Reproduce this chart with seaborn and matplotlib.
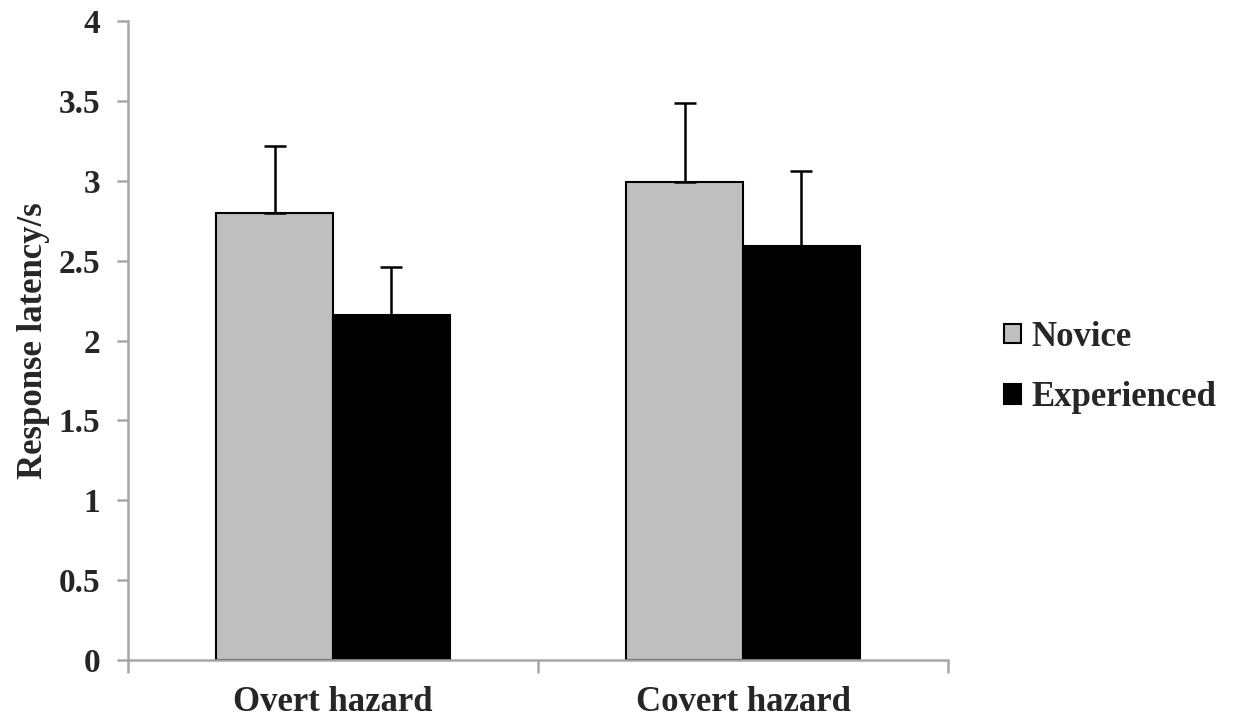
import numpy as np
import pandas as pd
import matplotlib
matplotlib.use("Agg")
import matplotlib.pyplot as plt
import seaborn as sns

# --- data ---
conditions = ["Overt hazard", "Covert hazard"]
groups = ["Novice", "Experienced"]
novice_mean = [2.80, 2.99]
novice_err = [0.42, 0.50]
experienced_mean = [2.16, 2.59]
experienced_err = [0.30, 0.47]

df = pd.DataFrame({
    "condition": conditions * 2,
    "group": [groups[0]] * 2 + [groups[1]] * 2,
    "latency": novice_mean + experienced_mean,
})
errs = {groups[0]: novice_err, groups[1]: experienced_err}

sns.set_style("white")
plt.rcParams["font.family"] = ["Liberation Serif", "DejaVu Serif"]
plt.rcParams["font.weight"] = "bold"

AXIS_GREY = "#a6a6a6"

fig = plt.figure(figsize=(12.35, 7.17), dpi=100)
ax = fig.add_axes([0.1036, 0.0795, 0.664, 0.891])

sns.barplot(data=df, x="condition", y="latency", hue="group",
            order=conditions, hue_order=groups,
            palette={"Novice": "#bfbfbf", "Experienced": "#000000"},
            width=0.57, errorbar=None, edgecolor="black", linewidth=1.5,
            ax=ax)

# one-sided (upper) error bars, placed from the bars seaborn drew
for container, g in zip(ax.containers, groups):
    xs = [p.get_x() + p.get_width() / 2 for p in container.patches]
    hs = [p.get_height() for p in container.patches]
    ax.errorbar(xs, hs, yerr=[np.zeros(len(hs)), errs[g]], fmt="none",
                ecolor="black", elinewidth=1.8, capsize=8, capthick=1.8, zorder=1)

ax.set_ylim(0, 4)
ax.set_xlim(-0.5, 1.5)
ax.set_yticks(np.arange(0, 4.01, 0.5))
ax.set_yticklabels(["0", "0.5", "1", "1.5", "2", "2.5", "3", "3.5", "4"])
ax.set_xticks([-0.5, 0.5, 1.5], minor=True)

ax.set_xlabel("")
ax.set_ylabel("Response latency/s", fontsize=25, fontweight="bold", labelpad=6)

for s in ["top", "right"]:
    ax.spines[s].set_visible(False)
for s in ["left", "bottom"]:
    ax.spines[s].set_color(AXIS_GREY)
    ax.spines[s].set_linewidth(1.8)

ax.tick_params(axis="y", which="major", direction="out", length=8, width=1.8,
               color=AXIS_GREY, labelsize=24, pad=12, left=True)
ax.tick_params(axis="x", which="major", length=0, labelsize=25, pad=19)
ax.tick_params(axis="x", which="minor", direction="out", length=9, width=1.8,
               color=AXIS_GREY, bottom=True)
for lbl in ax.get_xticklabels() + ax.get_yticklabels():
    lbl.set_fontweight("bold")

ax.legend(loc="center left", bbox_to_anchor=(1.051, 0.458), frameon=False,
          prop={"size": 25, "weight": "bold"}, handlelength=0.5, handleheight=0.5,
          handletextpad=0.3, labelspacing=0.78, borderaxespad=0)

fig.savefig("out.png", dpi=100)
